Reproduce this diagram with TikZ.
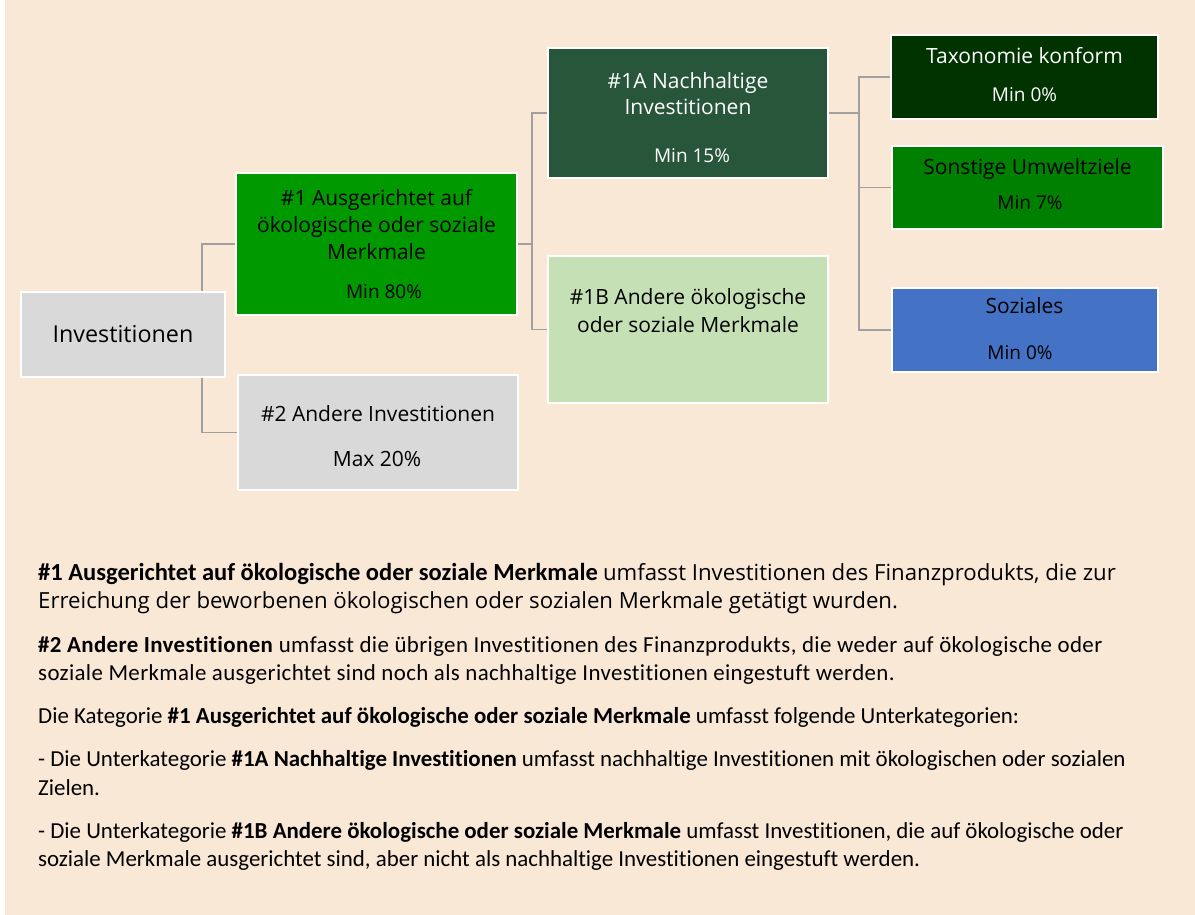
\documentclass[tikz,border=0pt]{standalone}
\usepackage{fontspec}
\setmainfont{Carlito}[Ligatures=NoCommon]
\newfontfamily\boxfont{Open Sans}
\newfontfamily\widefont{Carlito}[Ligatures=NoCommon, LetterSpace=1.6]
\definecolor{bgbeige}{RGB}{250,232,215}
\definecolor{boxgrey}{RGB}{217,217,217}
\definecolor{linegrey}{RGB}{160,160,160}
\definecolor{midgreen}{RGB}{0,153,0}
\definecolor{darkgreen}{RGB}{39,86,58}
\definecolor{palegreen}{RGB}{197,224,180}
\definecolor{deepgreen}{RGB}{0,51,0}
\definecolor{plaingreen}{RGB}{0,128,0}
\definecolor{socialblue}{RGB}{68,114,196}
\pgfdeclarelayer{back}
\pgfdeclarelayer{wires}
\pgfsetlayers{back,wires,main}
\tikzset{
  box/.style={draw=white, line width=2.5pt, inner sep=0pt},
  conn/.style={draw=linegrey, line width=1.3pt},
  txt/.style={anchor=base, inner sep=0pt, font=\boxfont\fontsize{21}{25}\selectfont},
  pct/.style={anchor=base, inner sep=0pt, font=\boxfont\fontsize{19}{23}\selectfont},
  para/.style={anchor=base west, inner sep=0pt, font=\fontsize{22.9}{28}\selectfont},
}
\begin{document}
\begin{tikzpicture}[x=1pt, y=-1pt]
	\useasboundingbox (0,0) rectangle (1195,915);
	\begin{pgfonlayer}{back}
		\fill[white] (0,0) rectangle (1195,915);
		\fill[bgbeige] (5,0) rectangle (1195,915);
	\end{pgfonlayer}
	% boxes
	\node[box, fill=boxgrey, minimum width=204pt, minimum height=85pt] (inv) at (123,334.5) {};
	\node[box, fill=midgreen, minimum width=281pt, minimum height=142pt] (n1) at (376.5,244) {};
	\node[box, fill=boxgrey, minimum width=280pt, minimum height=115pt] (n2) at (378,432.5) {};
	\node[box, fill=darkgreen, minimum width=280pt, minimum height=130pt] (n1a) at (688,113) {};
	\node[box, fill=palegreen, minimum width=280pt, minimum height=147pt] (n1b) at (688,329.5) {};
	\node[box, fill=deepgreen, minimum width=267pt, minimum height=84pt] (tax) at (1024.5,77) {};
	\node[box, fill=plaingreen, minimum width=271pt, minimum height=83pt] (sons) at (1027.5,187.5) {};
	\node[box, fill=socialblue, minimum width=266pt, minimum height=84pt] (soz) at (1025,330) {};
	% connectors
	\coordinate (j1) at (202,334.5);
	\coordinate (j2) at (532,244);
	\coordinate (j3) at (859,113);
	\begin{pgfonlayer}{wires}
		\draw[conn] (n1.west) -| (j1) |- (n2.west);
		\draw[conn] (n1.east) -- (j2);
		\draw[conn] (n1a.west) -| (j2) |- (n1b.west);
		\draw[conn] (n1a.east) -- (j3);
		\draw[conn] (tax.west) -| (j3) |- (soz.west);
		\draw[conn] (j3 |- sons.west) -- (sons.west);
	\end{pgfonlayer}
	% box texts
	\node[txt, font=\boxfont\fontsize{23.3}{27}\selectfont] (inv-t) at (123,342) {Investitionen};
	\node[txt] (n1-t1) at (376.5,205) {\#1 Ausgerichtet auf};
	\node[txt] (n1-t2) at (376.5,233) {ökologische oder soziale};
	\node[txt] (n1-t3) at (376.5,259) {Merkmale};
	\node[pct] (n1-p) at (384,298) {Min 80\%};
	\node[txt] (n2-t) at (378,421) {\#2 Andere Investitionen};
	\node[txt] (n2-p) at (377,466) {Max 20\%};
	\node[txt, text=white] (n1a-t1) at (688,89) {\#1A Nachhaltige};
	\node[txt, text=white] (n1a-t2) at (688,115) {Investitionen};
	\node[pct, text=white] (n1a-p) at (692,163) {Min 15\%};
	\node[txt] (n1b-t1) at (688,304) {\#1B Andere ökologische};
	\node[txt] (n1b-t2) at (688,332) {oder soziale Merkmale};
	\node[txt, text=white] (tax-t) at (1024.5,64) {Taxonomie konform};
	\node[pct, text=white] (tax-p) at (1024.5,102) {Min 0\%};
	\node[txt] (sons-t) at (1027.5,175) {Sonstige Umweltziele};
	\node[pct] (sons-p) at (1030,209) {Min 7\%};
	\node[txt] (soz-t) at (1024.5,313) {Soziales};
	\node[pct] (soz-p) at (1020,359) {Min 0\%};
	% explanation
	\node[para] (l1) at (38,580) {{\fontsize{24.5}{28}\selectfont\bfseries \#1 Ausgerichtet auf ökologische oder soziale Merkmale} {\boxfont\fontsize{22.2}{28}\selectfont umfasst Investitionen des Finanzprodukts, die zur}};
	\node[para] (l2) at (38,608) {\boxfont\fontsize{22.2}{28}\selectfont Erreichung der beworbenen ökologischen oder sozialen Merkmale getätigt wurden.};
	\node[para] (l3) at (38,652) {\widefont\textbf{\#2 Andere Investitionen} umfasst die übrigen Investitionen des Finanzprodukts, die weder auf ökologische oder};
	\node[para] (l4) at (38,680) {\widefont soziale Merkmale ausgerichtet sind noch als nachhaltige Investitionen eingestuft werden.};
	\node[para] (l5) at (38,723) {Die Kategorie \textbf{\#1 Ausgerichtet auf ökologische oder soziale Merkmale} umfasst folgende Unterkategorien:};
	\node[para] (l6) at (38,766) {- Die Unterkategorie \textbf{\#1A Nachhaltige Investitionen} umfasst nachhaltige Investitionen mit ökologischen oder sozialen};
	\node[para] (l7) at (38,795) {Zielen.};
	\node[para] (l8) at (38,838) {- Die Unterkategorie \textbf{\#1B Andere ökologische oder soziale Merkmale} umfasst Investitionen, die auf ökologische oder};
	\node[para] (l9) at (38,866) {soziale Merkmale ausgerichtet sind, aber nicht als nachhaltige Investitionen eingestuft werden.};
\end{tikzpicture}
\end{document}
